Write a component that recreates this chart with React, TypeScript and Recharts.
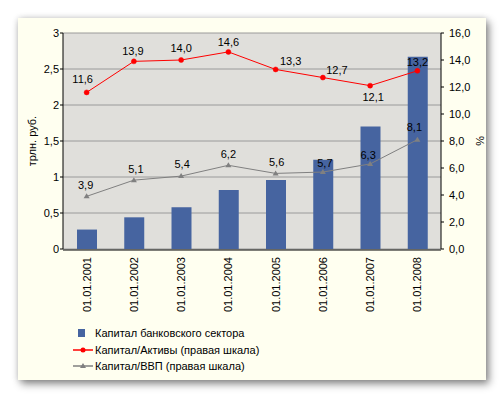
import React from 'react';
import { ComposedChart, Bar, Line, XAxis, YAxis, CartesianGrid, Legend } from 'recharts';

const categories = ['01.01.2001', '01.01.2002', '01.01.2003', '01.01.2004', '01.01.2005', '01.01.2006', '01.01.2007', '01.01.2008'];
const bankCapital = [0.27, 0.44, 0.58, 0.82, 0.96, 1.24, 1.70, 2.67];
const capitalToAssets = [11.6, 13.9, 14.0, 14.6, 13.3, 12.7, 12.1, 13.2];
const capitalToGdp = [3.9, 5.1, 5.4, 6.2, 5.6, 5.7, 6.3, 8.1];
const leftTicks = [0, 0.5, 1, 1.5, 2, 2.5, 3];
const rightTicks = [0, 2, 4, 6, 8, 10, 12, 14, 16];
const boundaryTicks = [0, 1, 2, 3, 4, 5, 6, 7, 8];

const seriesNames = {
  capital: 'Капитал банковского сектора',
  assets: 'Капитал/Активы (правая шкала)',
  gdp: 'Капитал/ВВП (правая шкала)',
};

// label placement tweaks (style only)
const assetsLabelShift: [number, number][] = [[-4, -13], [-1, -10], [0, -12], [0, -10], [15, -8], [14, -8], [3, 11], [0, -9]];
const gdpLabelShift: [number, number][] = [[-1, -11], [2, -11], [1, -12], [0, -11], [1, -11], [2, -9], [-2, -9], [-3, -13]];

const data = categories.map((c, i) => ({
  date: c,
  capital: bankCapital[i],
  assets: capitalToAssets[i],
  gdp: capitalToGdp[i],
}));

const FONT = '"Liberation Sans", Arial, sans-serif';
const BAR = '#4664A0';
const RED = '#FF0000';
const GREY = '#808080';

const fmt1 = (v: number) => v.toFixed(1).replace('.', ',');
const fmtLeft = (v: number) => String(v).replace('.', ',');

const XTick = (props: any) => {
  const { x, y, payload } = props;
  return (
    <text x={x} y={y} dy={4} transform={`rotate(-90, ${x}, ${y})`} textAnchor="end" fontSize={11} fontFamily={FONT} fill="#000">
      {payload.value}
    </text>
  );
};

const makeLabel = (shift: [number, number][]) => (props: any) => {
  const { x, y, value, index } = props;
  const [dx, dy] = shift[index] || [0, -10];
  return (
    <text x={x + dx} y={y + dy + 4} textAnchor="middle" fontSize={11} fontFamily={FONT} fill="#000">
      {fmt1(value)}
    </text>
  );
};

const RedDot = (props: any) => {
  const { cx, cy } = props;
  if (cx == null || cy == null) return null;
  return <circle cx={cx} cy={cy} r={2.5} fill={RED} stroke={RED} strokeWidth={0.5} />;
};

const GreyTri = (props: any) => {
  const { cx, cy } = props;
  if (cx == null || cy == null) return null;
  return <path d={`M${cx},${cy - 3} L${cx + 3},${cy + 2} L${cx - 3},${cy + 2} Z`} fill={GREY} />;
};

const LegendContent = () => {
  const row = { display: 'flex', alignItems: 'center', height: 16.5, fontSize: 11, fontFamily: FONT, color: '#000', whiteSpace: 'nowrap' as const };
  return (
    <div>
      <div style={row}>
        <svg width={20} height={16} style={{ marginRight: 2 }}>
          <rect x={5} y={4} width={7} height={8} fill={BAR} />
        </svg>
        <span>{seriesNames.capital}</span>
      </div>
      <div style={row}>
        <svg width={20} height={16} style={{ marginRight: 2 }}>
          <line x1={0} y1={8} x2={20} y2={8} stroke={RED} strokeWidth={1.5} />
          <circle cx={10} cy={8} r={2.5} fill={RED} />
        </svg>
        <span>{seriesNames.assets}</span>
      </div>
      <div style={row}>
        <svg width={20} height={16} style={{ marginRight: 2 }}>
          <line x1={0} y1={8} x2={20} y2={8} stroke={GREY} strokeWidth={1.5} />
          <path d="M10,5 L13,10 L7,10 Z" fill={GREY} />
        </svg>
        <span>{seriesNames.gdp}</span>
      </div>
    </div>
  );
};

export default function App() {
  return (
    <div style={{ position: 'absolute', left: 0, top: 0, width: 504, height: 398, background: '#fff', fontFamily: FONT }}>
      <div
        style={{
          position: 'absolute',
          left: 18,
          top: 18,
          width: 468,
          height: 362,
          background: '#FFFFF0',
          boxShadow: '3px 4px 8px rgba(0,0,0,0.45), 0 0 6px rgba(0,0,0,0.15)',
        }}
      />
      <div style={{ position: 'absolute', left: 0, top: 0 }}>
        <ComposedChart width={504} height={398} data={data} margin={{ top: 33, right: 23, bottom: 89, left: 23 }}>
          <CartesianGrid
            xAxisId="cat"
            yAxisId="left"
            vertical={false}
            stroke="#9A9A9A"
            fill="#E0DFDB"
            fillOpacity={1}
            horizontalValues={leftTicks}
          />
          <XAxis
            xAxisId="bounds"
            type="number"
            domain={[0, 8]}
            ticks={boundaryTicks}
            tick={false}
            axisLine={false}
            tickLine={{ stroke: '#000' }}
            tickSize={4}
            height={1}
            allowDataOverflow
          />
          <XAxis
            xAxisId="cat"
            dataKey="date"
            type="category"
            tickLine={false}
            tickSize={0}
            tickMargin={7}
            axisLine={{ stroke: '#000' }}
            tick={<XTick />}
            interval={0}
            height={59}
          />
          <YAxis
            yAxisId="left"
            orientation="left"
            domain={[0, 3]}
            ticks={leftTicks}
            tickFormatter={fmtLeft}
            tick={{ fontSize: 11, fontFamily: FONT, fill: '#000' }}
            tickSize={3}
            tickMargin={1}
            tickLine={{ stroke: '#000' }}
            axisLine={{ stroke: '#000' }}
            width={40}
            label={(p: any) => {
              const vb = p.viewBox || {};
              const x = vb.x + 13;
              const y = vb.y + vb.height / 2;
              return (
                <text x={x} y={y} transform={`rotate(-90, ${x}, ${y})`} textAnchor="middle" fontSize={11} fontFamily={FONT} fill="#000">
                  трлн. руб.
                </text>
              );
            }}
          />
          <YAxis
            yAxisId="right"
            orientation="right"
            domain={[0, 16]}
            ticks={rightTicks}
            tickFormatter={fmt1}
            tick={{ fontSize: 11, fontFamily: FONT, fill: '#000', textAnchor: 'start' }}
            tickSize={3}
            tickMargin={5}
            tickLine={{ stroke: '#000' }}
            axisLine={{ stroke: '#000' }}
            width={40}
            label={(p: any) => {
              const vb = p.viewBox || {};
              const x = vb.x + 35;
              const y = vb.y + vb.height / 2;
              return (
                <text x={x} y={y} transform={`rotate(90, ${x}, ${y})`} textAnchor="middle" fontSize={11} fontFamily={FONT} fill="#000">
                  %
                </text>
              );
            }}
          />
          <YAxis
            yAxisId="rightInner"
            orientation="right"
            mirror
            domain={[0, 16]}
            ticks={rightTicks}
            tick={false}
            tickSize={3}
            tickLine={{ stroke: '#000' }}
            axisLine={false}
            width={40}
          />
          <Bar
            xAxisId="cat"
            yAxisId="left"
            dataKey="capital"
            name={seriesNames.capital}
            fill={BAR}
            barSize={20}
            isAnimationActive={false}
          />
          <Line
            xAxisId="cat"
            yAxisId="right"
            dataKey="gdp"
            name={seriesNames.gdp}
            stroke={GREY}
            strokeWidth={1}
            dot={<GreyTri />}
            activeDot={false}
            label={makeLabel(gdpLabelShift)}
            isAnimationActive={false}
          />
          <Line
            xAxisId="cat"
            yAxisId="right"
            dataKey="assets"
            name={seriesNames.assets}
            stroke={RED}
            strokeWidth={1}
            dot={<RedDot />}
            activeDot={false}
            label={makeLabel(assetsLabelShift)}
            isAnimationActive={false}
          />
          <Legend
            layout="horizontal"
            verticalAlign="middle"
            align="center"
            content={<LegendContent />}
            wrapperStyle={{ top: 325, left: 73, width: 320, height: 50 }}
          />
        </ComposedChart>
      </div>
    </div>
  );
}
